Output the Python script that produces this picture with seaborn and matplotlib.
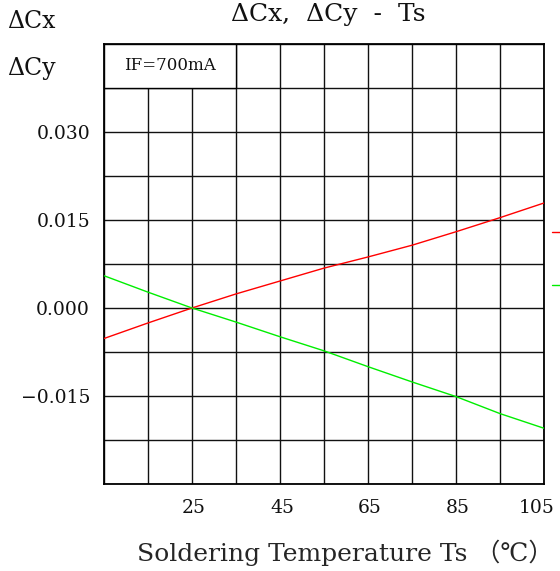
import numpy as np
import pandas as pd
import seaborn as sns
import matplotlib.pyplot as plt
from matplotlib.patches import Rectangle
from matplotlib.transforms import ScaledTranslation

# values
temps = [5, 15, 25, 35, 45, 55, 65, 75, 85, 95, 105]
dcx = [-0.0052, -0.00255, 0.0, 0.0024, 0.0046, 0.0068, 0.0087, 0.0107, 0.0130, 0.0154, 0.0179]
dcy = [0.0055, 0.0027, 0.0, -0.0024, -0.0049, -0.0073, -0.0100, -0.0126, -0.0151, -0.0180, -0.0205]
series_names = ['ΔCx', 'ΔCy']

x_grid = np.arange(5, 106, 10)
x_labels = {25: '25', 45: '45', 65: '65', 85: '85', 105: '105'}
y_grid = np.arange(-0.030, 0.0451, 0.0075)
y_labels = {0.030: '0.030', 0.015: '0.015', 0.0: '0.000', -0.015: '−0.015'}

def main():
    sns.set_style('white')
    plt.rcParams['font.family'] = ['DejaVu Serif', 'Noto Sans CJK SC']
    plt.rcParams['text.color'] = '#111111'

    df = pd.DataFrame({
        'Ts': temps * 2,
        'val': dcx + dcy,
        'series': [series_names[0]] * len(temps) + [series_names[1]] * len(temps),
    })

    fig = plt.figure(figsize=(5.6, 5.71), dpi=100)
    ax = fig.add_axes([104 / 560, 87 / 571, 440 / 560, 440 / 571])

    sns.lineplot(data=df, x='Ts', y='val', hue='series',
                 palette=['#ff0000', '#00ee00'], linewidth=1.0, ax=ax, zorder=3)

    ax.set_xlim(5, 105)
    ax.set_ylim(-0.030, 0.045)
    ax.set_xticks(x_grid)
    ax.set_xticklabels([x_labels.get(int(v), '') for v in x_grid])
    ax.set_yticks(y_grid)
    ax.set_yticklabels([y_labels.get(round(v, 4), '') for v in y_grid])
    ax.tick_params(length=0, labelsize=13.5, labelcolor='#111111')
    ax.tick_params(axis='y', pad=10)
    ax.tick_params(axis='x', pad=11)
    ax.grid(True, color='#111111', linewidth=1.0)
    for s in ax.spines.values():
        s.set_color('black')
        s.set_linewidth(1.3)

    # nudge x tick labels like the original; last one sits inside the right edge
    xlabs = ax.get_xticklabels()
    for lab in xlabs[:-1]:
        lab.set_transform(lab.get_transform() + ScaledTranslation(2 / 100, 0, fig.dpi_scale_trans))
    xlabs[-1].set_horizontalalignment('right')
    xlabs[-1].set_transform(xlabs[-1].get_transform() + ScaledTranslation(11 / 100, 0, fig.dpi_scale_trans))

    ax.set_xlabel('Soldering Temperature Ts （℃）', fontsize=18)
    ax.xaxis.set_label_coords((345 - 104) / 440, -56 / 440)
    ax.set_ylabel('')

    # IF box in the top-left cells
    ax.add_patch(Rectangle((5, 0.0375), 30, 0.0075, facecolor='white',
                           edgecolor='black', linewidth=1.0, zorder=2.5))
    ax.text(20, 0.04125, 'IF=700mA', ha='center', va='center', fontsize=12, zorder=4)

    fig.text(0.587, 0.974, 'ΔCx,  ΔCy  -  Ts', ha='center', va='center', fontsize=18)
    fig.text(0.012, 0.963, 'ΔCx', ha='left', va='center', fontsize=17)
    fig.text(0.012, 0.880, 'ΔCy', ha='left', va='center', fontsize=17)

    # legend keys sit past the right edge; their labels fall outside the figure
    handles, _ = ax.get_legend_handles_labels()
    ax.legend(handles, [' ', ' '], loc='upper left',
              bbox_to_anchor=((552 - 104) / 440, (484 - 225) / 440),
              frameon=False, borderpad=0, borderaxespad=0, handlelength=2,
              labelspacing=2.15, fontsize=12)

    plt.savefig('out.png', dpi=100)

if __name__ == '__main__':
    main()
